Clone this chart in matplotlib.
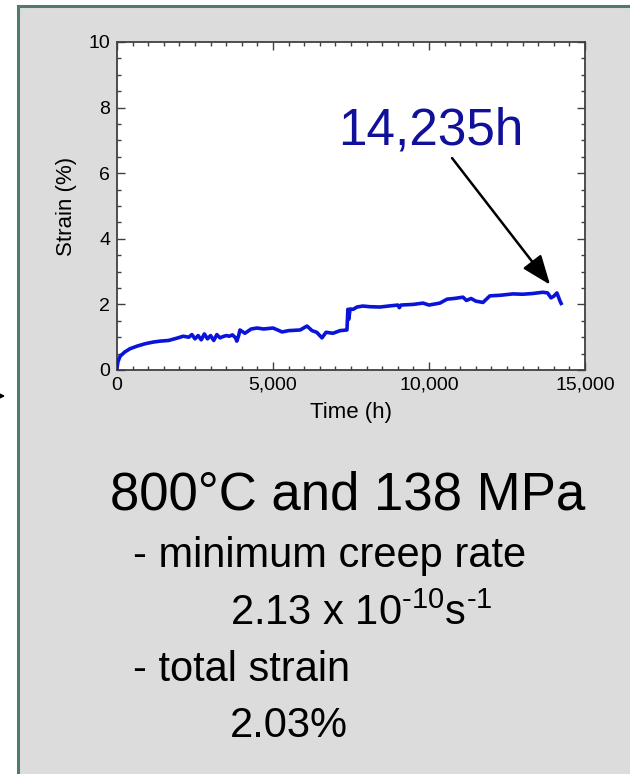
import matplotlib
matplotlib.use("Agg")
import matplotlib.pyplot as plt
from matplotlib.patches import Rectangle
from matplotlib.ticker import MultipleLocator, FuncFormatter

plt.rcParams['font.family'] = ['Liberation Sans', 'DejaVu Sans']
plt.rcParams['mathtext.fontset'] = 'custom'
plt.rcParams['mathtext.rm'] = 'Liberation Sans'

# creep curve
time_h = [0, 30, 100, 250, 420, 650, 900, 1150, 1380, 1650, 1920, 2120, 2300, 2400,
          2500, 2600, 2700, 2800, 2900, 3000, 3100, 3200, 3300, 3400, 3500, 3600,
          3700, 3800, 3840, 3900, 3940, 4100, 4300, 4490, 4700, 5000, 5150, 5290,
          5500, 5870, 6090, 6250, 6400, 6570, 6700, 6920, 7150, 7370, 7400, 7430,
          7470, 7570, 7690, 7880, 8100, 8430, 8700, 9000, 9050, 9100, 9500, 9810,
          10000, 10350, 10580, 10800, 11090, 11200, 11350, 11500, 11730, 11950,
          12300, 12690, 13000, 13300, 13650, 13800, 13910, 14000, 14100, 14200, 14235]
strain_pct = [0.05, 0.25, 0.42, 0.55, 0.65, 0.73, 0.80, 0.85, 0.88, 0.90, 0.97, 1.03,
              1.00, 1.08, 0.95, 1.05, 0.92, 1.10, 0.95, 1.05, 0.90, 1.08, 0.98, 1.02,
              1.05, 1.03, 1.07, 0.98, 0.88, 1.05, 1.22, 1.12, 1.25, 1.28, 1.25, 1.28,
              1.22, 1.16, 1.20, 1.22, 1.34, 1.20, 1.15, 0.98, 1.15, 1.12, 1.20, 1.22,
              1.85, 1.55, 1.86, 1.85, 1.92, 1.95, 1.93, 1.92, 1.95, 1.98, 1.90, 1.98,
              2.00, 2.04, 1.98, 2.04, 2.16, 2.18, 2.22, 2.12, 2.18, 2.10, 2.06, 2.26,
              2.28, 2.32, 2.31, 2.33, 2.37, 2.35, 2.20, 2.25, 2.35, 2.10, 2.03]

rupture_label = "14,235h"
summary_lines = ["800°C and 138 MPa",
                 "- minimum creep rate",
                 r"2.13 x 10$^{\text{-10}}$s$^{\text{-1}}$",
                 "- total strain",
                 "2.03%"]

W, H = 630, 774
fig = plt.figure(figsize=(W / 100, H / 100), dpi=100, facecolor='white')

# grey panel with green border
panel = Rectangle((17.5 / W, -0.05), 1.2, 1 - 5.5 / H + 0.05, transform=fig.transFigure,
                  facecolor='#DCDCDC', edgecolor='#4E7C68', linewidth=2.2, zorder=-5)
fig.patches.append(panel)

# little arrow at left edge
fig.add_artist(matplotlib.text.Annotation("", xy=(8, H - 396), xytext=(-12, H - 396),
                                           xycoords='figure pixels', textcoords='figure pixels',
                                           arrowprops=dict(arrowstyle='-|>', color='black',
                                                           lw=1.2, mutation_scale=14)))

ax = fig.add_axes([117 / W, 1 - 370 / H, (585 - 117) / W, (370 - 42) / H], zorder=2)
ax.set_facecolor('white')
ax.plot(time_h, strain_pct, color='#0A14D8', lw=2.6, zorder=3)

ax.set_xlim(0, 15000)
ax.set_ylim(0, 10)
ax.xaxis.set_major_locator(MultipleLocator(5000))
ax.xaxis.set_minor_locator(MultipleLocator(500))
ax.yaxis.set_major_locator(MultipleLocator(2))
ax.yaxis.set_minor_locator(MultipleLocator(0.5))
ax.xaxis.set_major_formatter(FuncFormatter(lambda v, p: f"{int(v):,}"))
ax.tick_params(which='both', direction='in', top=True, right=True, color='#404040',
               labelsize=14, pad=5)
ax.tick_params(which='major', length=6, width=1)
ax.tick_params(which='minor', length=3, width=1)
for s in ax.spines.values():
    s.set_color('#404040')
    s.set_linewidth(1.3)

ax.set_xlabel("Time (h)", fontsize=16, labelpad=6)
ax.set_ylabel("Strain (%)", fontsize=16, labelpad=8)

ax.text(7083, 6.86, rupture_label, fontsize=37, color='#10109A', va='baseline', ha='left')
ax.annotate("", xy=(13880, 2.6), xytext=(10740, 6.46),
            arrowprops=dict(arrowstyle='-|>,head_length=0.9,head_width=0.35', color='black',
                            lw=1.8, mutation_scale=20, shrinkA=0, shrinkB=0))

# summary text below the plot
text_pos = [(110, 509, 38), (133, 567, 30), (230, 625, 30), (133, 681, 30), (230, 737, 30)]
for line, (px, py, fs) in zip(summary_lines, text_pos):
    fig.text(px / W, 1 - py / H, line, fontsize=fs, va='baseline', ha='left', color='black')

fig.savefig("out.png", dpi=100, facecolor='white')
